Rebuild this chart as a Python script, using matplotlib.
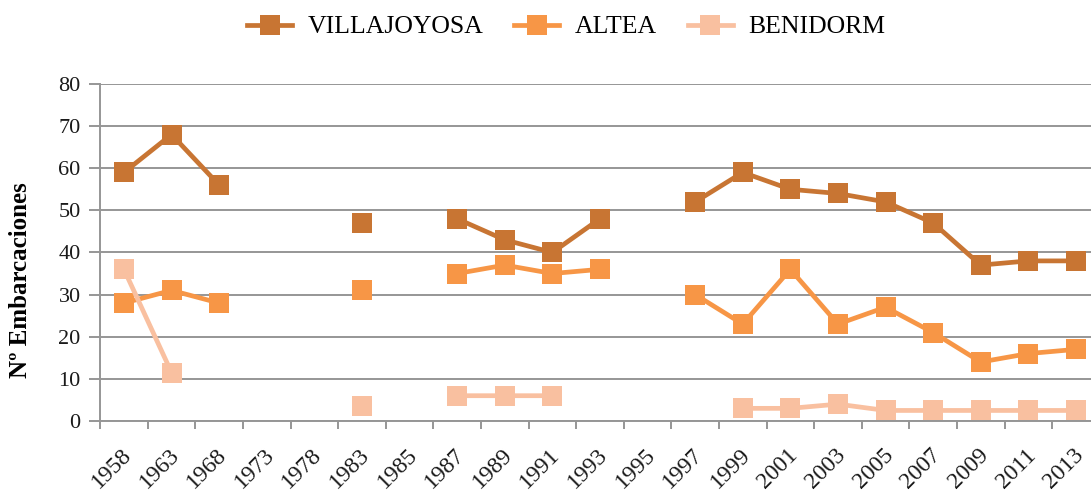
import matplotlib
matplotlib.use('Agg')
import matplotlib.pyplot as plt
import matplotlib.transforms as mtrans
import numpy as np

# Data (NaN = no data)
years = ['1958', '1963', '1968', '1973', '1978', '1983', '1985', '1987', '1989', '1991',
         '1993', '1995', '1997', '1999', '2001', '2003', '2005', '2007', '2009', '2011', '2013']
nan = np.nan
villajoyosa = [59, 68, 56, nan, nan, 47, nan, 48, 43, 40,
               48, nan, 52, 59, 55, 54, 52, 47, 37, 38, 38]
altea = [28, 31, 28, nan, nan, 31, nan, 35, 37, 35,
         36, nan, 30, 23, 36, 23, 27, 21, 14, 16, 17]
benidorm = [36, 11.5, nan, nan, nan, 3.5, nan, 6, 6, 6,
            nan, nan, nan, 3, 3, 4, 2.5, 2.5, 2.5, 2.5, 2.5]

series = [('VILLAJOYOSA', villajoyosa, '#C87533'),
          ('ALTEA', altea, '#F79646'),
          ('BENIDORM', benidorm, '#F9C0A0')]

plt.rcParams['font.family'] = ['Liberation Serif', 'DejaVu Serif']

fig = plt.figure(figsize=(10.91, 4.91), dpi=100)
ax = fig.add_axes([0.0918, 0.1426, 0.9162, 0.6864])

x = np.arange(len(years))
for name, vals, col in series:
    ax.plot(x, vals, color=col, linewidth=3.4, marker='s', markersize=13.7,
            markeredgewidth=0, label=name, zorder=3)

ax.set_xlim(-0.5, len(years) - 0.5)
ax.set_ylim(0, 80)
ax.set_yticks(np.arange(0, 81, 10))
ax.yaxis.grid(True, color='#969696', linewidth=1.4)
ax.set_axisbelow(True)

# category axis: tick marks between categories, labels at centres
ax.set_xticks(np.arange(-0.5, len(years), 1.0))
ax.set_xticklabels([])
ax.set_xticks(x, minor=True)
ax.set_xticklabels(years, minor=True, rotation=45, ha='right', va='top',
                   rotation_mode='anchor', fontsize=17, color='#1a1a1a')
ax.tick_params(axis='x', which='minor', length=0, pad=17)
ax.tick_params(axis='x', which='major', length=6, width=1.4, color='#969696')
ax.tick_params(axis='y', length=8, width=1.4, color='#969696', labelsize=16,
               labelcolor='#1a1a1a', pad=6)
offset = mtrans.ScaledTranslation(-3 / 100, 0, fig.dpi_scale_trans)
for lab in ax.get_xticklabels(minor=True):
    lab.set_transform(lab.get_transform() + offset)

for s in ['top', 'right']:
    ax.spines[s].set_visible(False)
for s in ['left', 'bottom']:
    ax.spines[s].set_color('#969696')
    ax.spines[s].set_linewidth(1.4)

ax.set_ylabel('Nº Embarcaciones', fontsize=18, fontweight='bold')
ax.yaxis.set_label_coords(-0.068, 0.418)

fig.legend(loc='center', bbox_to_anchor=(0.519, 0.945), ncol=3, frameon=False,
           fontsize=18.5, handlelength=1.75, handletextpad=0.6, columnspacing=1.2)

fig.savefig('out.png', dpi=100)
